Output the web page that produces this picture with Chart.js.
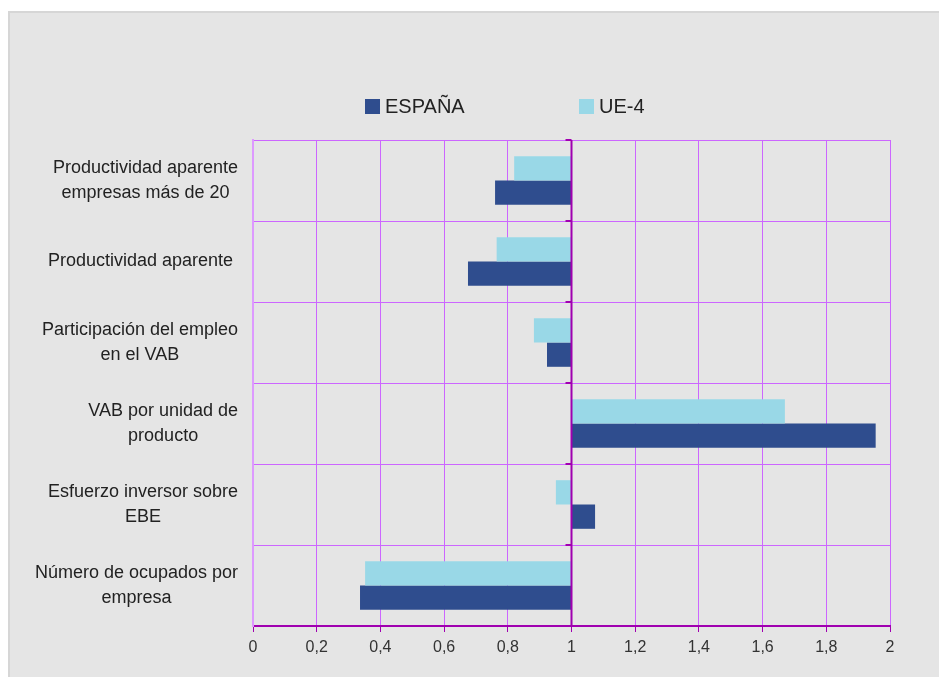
<!DOCTYPE html>
<html>
<head>
<meta charset="utf-8">
<script src="https://cdn.jsdelivr.net/npm/chart.js@4/dist/chart.umd.min.js"></script>
<style>
  html, body { margin: 0; padding: 0; background: #ffffff; }
  body { width: 939px; height: 677px; position: relative; overflow: hidden; font-family: "Liberation Sans", Arial, sans-serif; }
  #panel { position: absolute; left: 8px; top: 11px; width: 940px; height: 680px; background: #e5e5e5; border: 2px solid #d6d6d6; box-sizing: border-box; }
  #wrap { position: absolute; left: 0; top: 0; width: 939px; height: 677px; }
  #legend { position: absolute; top: 93px; left: 0; width: 939px; height: 26px; font-size: 20px; color: #222; }
  .item { position: absolute; top: 0; line-height: 26px; white-space: nowrap; }
  .box { display: inline-block; width: 15px; height: 15px; vertical-align: -1px; margin-right: 5px; }
</style>
</head>
<body>
<div id="panel"></div>
<div id="wrap"><canvas id="c" width="939" height="677"></canvas></div>
<div id="legend"></div>
<script>
const categories = [
  ["Productividad aparente", "empresas más de 20"],
  ["Productividad aparente "],
  ["Participación del empleo", "en el VAB"],
  ["VAB por unidad de", "producto"],
  ["Esfuerzo inversor sobre", "EBE"],
  ["Número de ocupados por", "empresa"]
];
const seriesNames = ["ESPAÑA", "UE-4"];
const espana = [0.76, 0.675, 0.923, 1.955, 1.074, 0.336];
const ue4 = [0.82, 0.765, 0.882, 1.67, 0.951, 0.352];
const xTicks = [0, 0.2, 0.4, 0.6, 0.8, 1, 1.2, 1.4, 1.6, 1.8, 2];
const baseValue = 1;

const colEspana = "#2f4d8e";
const colUE = "#99d8e7";
const gridCol = "#cc66ff";
const axisCol = "#a000b0";
const FONT = '"Liberation Sans", Arial, sans-serif';

// HTML legend
const legend = document.getElementById("legend");
[[seriesNames[0], colEspana, 365], [seriesNames[1], colUE, 579]].forEach(([name, col, x]) => {
  const d = document.createElement("div");
  d.className = "item";
  d.style.left = x + "px";
  d.innerHTML = '<span class="box" style="background:' + col + '"></span>' + name;
  legend.appendChild(d);
});

const overlay = {
  id: "overlay",
  afterDatasetsDraw(chart) {
    const ctx = chart.ctx;
    const xs = chart.scales.x, ys = chart.scales.y;
    const area = chart.chartArea;
    const x1 = xs.getPixelForValue(baseValue);
    ctx.save();
    ctx.strokeStyle = axisCol;
    ctx.lineWidth = 2;
    ctx.beginPath();
    ctx.moveTo(x1, area.top);
    ctx.lineTo(x1, area.bottom);
    ctx.stroke();
    const step = ys.getPixelForValue(1) - ys.getPixelForValue(0);
    for (let i = 0; i <= categories.length; i++) {
      const yb = ys.getPixelForValue(i) - step / 2;
      ctx.beginPath();
      ctx.moveTo(x1 - 6, yb);
      ctx.lineTo(x1, yb);
      ctx.stroke();
    }
    ctx.restore();
  },
  afterDraw(chart) {
    const ctx = chart.ctx;
    const ys = chart.scales.y;
    const area = chart.chartArea;
    ctx.save();
    ctx.font = "18px " + FONT;
    ctx.fillStyle = "#222";
    ctx.textAlign = "center";
    ctx.textBaseline = "middle";
    const lh = 25;
    categories.forEach((lines, i) => {
      const maxW = Math.max(...lines.map(l => ctx.measureText(l).width));
      const cx = area.left - 15 - maxW / 2;
      const cy = ys.getPixelForValue(i);
      const y0 = cy - (lines.length - 1) * lh / 2;
      lines.forEach((l, k) => ctx.fillText(l, cx, y0 + k * lh));
    });
    ctx.restore();
  }
};

new Chart(document.getElementById("c"), {
  type: "bar",
  data: {
    labels: categories,
    datasets: [
      { label: seriesNames[1], data: ue4, base: baseValue, backgroundColor: colUE, borderWidth: 0 },
      { label: seriesNames[0], data: espana, base: baseValue, backgroundColor: colEspana, borderWidth: 0 }
    ]
  },
  options: {
    indexAxis: "y",
    responsive: false,
    animation: false,
    layout: { padding: { top: 140, right: 49, bottom: 0, left: 0 } },
    plugins: { legend: { display: false }, tooltip: { enabled: false } },
    datasets: { bar: { categoryPercentage: 0.6, barPercentage: 1.0 } },
    scales: {
      x: {
        type: "linear",
        min: 0, max: 2,
        afterBuildTicks(s) { s.ticks = xTicks.map(v => ({ value: v })); },
        afterFit(s) { s.height = 51; },
        ticks: {
          font: { family: FONT, size: 16 },
          color: "#333",
          padding: 6,
          callback: v => String(v).replace(".", ",")
        },
        grid: { color: gridCol, lineWidth: 1, tickColor: axisCol, tickLength: 6, tickWidth: 1 },
        border: { color: axisCol, width: 2 }
      },
      y: {
        type: "category",
        offset: true,
        afterFit(s) { s.width = 253; },
        ticks: { display: false },
        grid: { color: gridCol, lineWidth: 1, offset: true, drawTicks: false },
        border: { color: "#dd99ff", width: 2 }
      }
    }
  },
  plugins: [overlay]
});
</script>
</body>
</html>
